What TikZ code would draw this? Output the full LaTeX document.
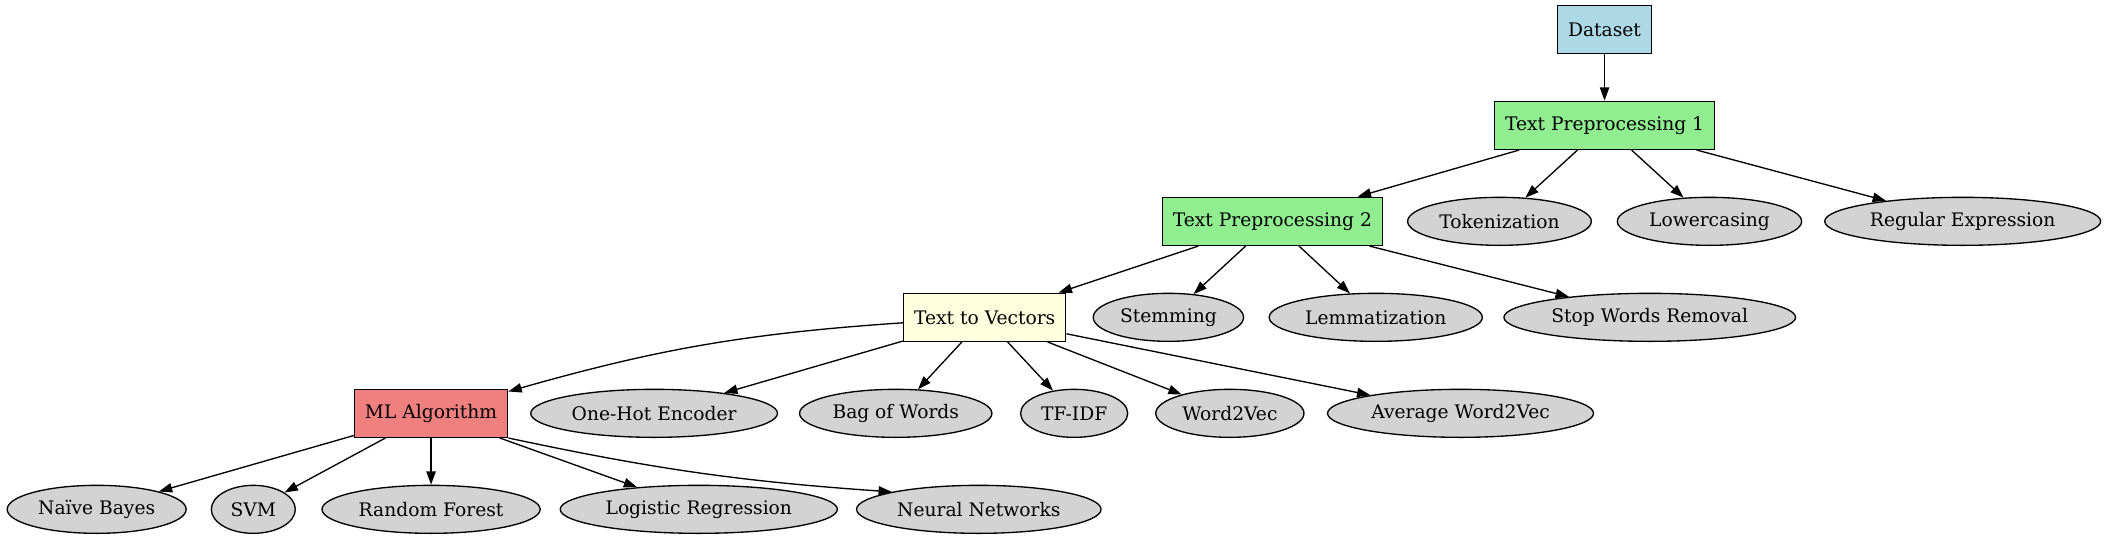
\documentclass[tikz,border=0pt]{standalone}
\usepackage{fontspec}
\setmainfont{DejaVu Serif}
\usepackage{xcolor}
\usepackage{tikz}
\usetikzlibrary{shapes,arrows.meta,positioning}

\definecolor{dsblue}{HTML}{ADD8E6}
\definecolor{prepgreen}{HTML}{90EE90}
\definecolor{vecyellow}{HTML}{FFFFE0}
\definecolor{mlred}{HTML}{F08080}
\definecolor{leafgrey}{HTML}{D3D3D3}

\tikzset{
    box/.style={draw, rectangle, line width=1pt, minimum height=36pt, minimum width=54pt,
        inner xsep=7.9pt, font=\fontsize{14}{17}\selectfont},
    leaf/.style={draw, ellipse, fill=leafgrey, line width=1pt, minimum height=36pt, minimum width=54pt,
        inner xsep=3.6pt, inner ysep=0pt, font=\fontsize{14}{17}\selectfont},
    arr/.style={-{Triangle[length=10pt,width=7pt]}, line width=1pt},
}

\begin{document}
\begin{tikzpicture}[x=1pt, y=-1pt]
    \useasboundingbox (0,0) rectangle (1578,404.25);

    % Pipeline boxes
    \node[box, fill=dsblue] (dataset) at (1203.4,22) {Dataset};
    \node[box, fill=prepgreen] (prep1) at (1203.4,94) {Text Preprocessing 1};
    \node[box, fill=prepgreen] (prep2) at (954.3,166) {Text Preprocessing 2};
    \node[box, fill=vecyellow] (tovec) at (738.5,238) {Text to Vectors};
    \node[box, fill=mlred] (mlalgo) at (323.3,310) {ML Algorithm};

    % Preprocessing 1 steps
    \node[leaf] (token) at (1124.6,166) {Tokenization};
    \node[leaf] (lower) at (1282.1,166) {Lowercasing};
    \node[leaf] (regex) at (1472,166) {Regular Expression};

    % Preprocessing 2 steps
    \node[leaf] (stem) at (876.3,238) {Stemming};
    \node[leaf] (lemma) at (1031.8,238) {Lemmatization};
    \node[leaf] (stopw) at (1237.3,238) {Stop Words Removal};

    % Vectorizers
    \node[leaf] (onehot) at (490.6,310) {One-Hot Encoder};
    \node[leaf] (bow) at (671.8,310) {Bag of Words};
    \node[leaf] (tfidf) at (805.6,310) {TF-IDF};
    \node[leaf] (wtov) at (922.4,310) {Word2Vec};
    \node[leaf] (avgwtov) at (1095.4,310) {Average Word2Vec};

    % Models
    \node[leaf] (nb) at (72.5,382) {Naïve Bayes};
    \node[leaf, minimum width=63pt] (svm) at (190,382) {SVM};
    \node[leaf] (rf) at (323.3,382) {Random Forest};
    \node[leaf] (lr) at (524.1,382) {Logistic Regression};
    \node[leaf] (nn) at (734.1,382) {Neural Networks};

    % Edges
    \draw[arr] (dataset) -- (prep1);
    \draw[arr] (prep1) -- (prep2);
    \draw[arr] (prep1) -- (token);
    \draw[arr] (prep1) -- (lower);
    \draw[arr] (prep1) -- (regex);
    \draw[arr] (prep2) -- (tovec);
    \draw[arr] (prep2) -- (stem);
    \draw[arr] (prep2) -- (lemma);
    \draw[arr] (prep2) -- (stopw);
    \draw[arr] (tovec) to[bend right=6] (mlalgo);
    \draw[arr] (tovec) -- (onehot);
    \draw[arr] (tovec) -- (bow);
    \draw[arr] (tovec) -- (tfidf);
    \draw[arr] (tovec) -- (wtov);
    \draw[arr] (tovec) -- (avgwtov);
    \draw[arr] (mlalgo) -- (nb);
    \draw[arr] (mlalgo) -- (svm);
    \draw[arr] (mlalgo) -- (rf);
    \draw[arr] (mlalgo) -- (lr);
    \draw[arr] (mlalgo.south east) to[bend right=4] (nn.north west);
\end{tikzpicture}
\end{document}
